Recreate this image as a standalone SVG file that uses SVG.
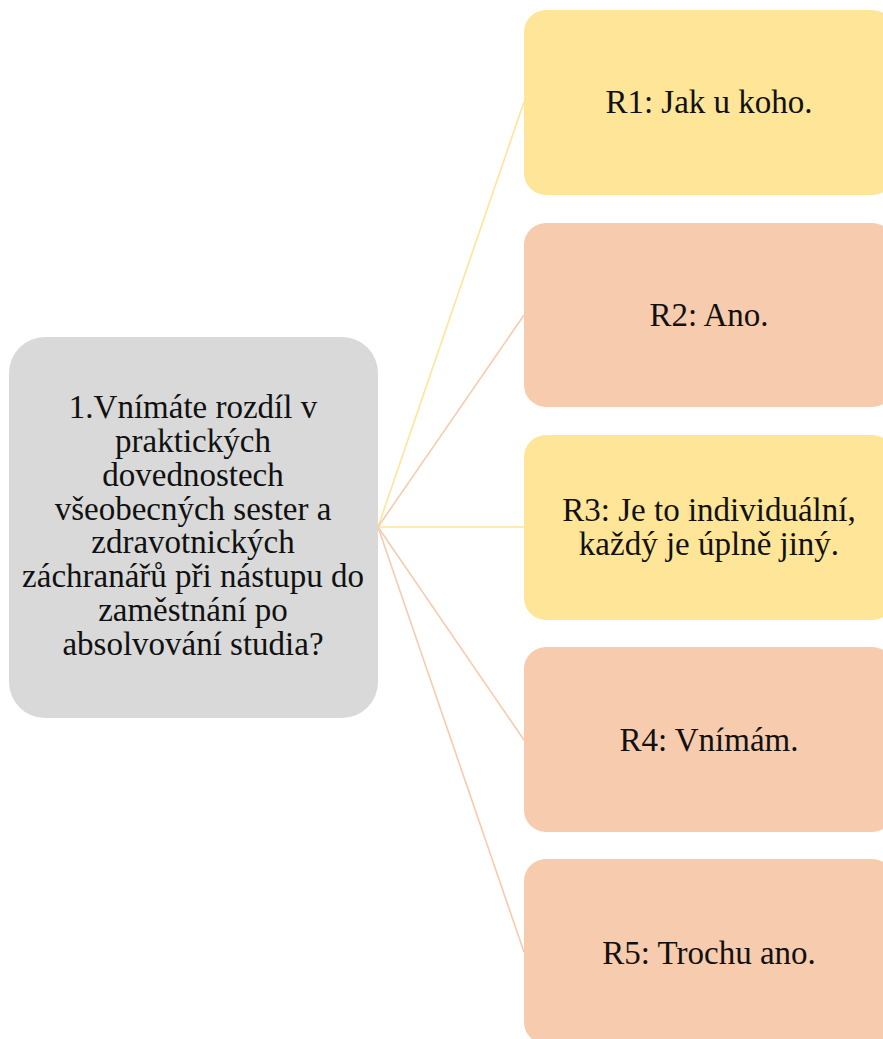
<svg xmlns="http://www.w3.org/2000/svg" width="883" height="1039" viewBox="0 0 883 1039">
<style>
.t{font-family:"Liberation Serif","Times New Roman",serif;font-size:33px;fill:#111;text-anchor:middle}
.y{fill:#FFE597}
.o{fill:#F7CBAD}
.ly{stroke:#FFE597;stroke-width:1.6;fill:none}
.lo{stroke:#F7CBAD;stroke-width:1.6;fill:none}
</style>
<rect width="883" height="1039" fill="#fff"/>
<g id="connectors">
<line class="ly" x1="378" y1="527" x2="524" y2="102"/>
<line class="lo" x1="378" y1="527" x2="524" y2="315"/>
<line class="ly" x1="378" y1="527" x2="524" y2="527"/>
<line class="lo" x1="378" y1="527" x2="524" y2="740"/>
<line class="lo" x1="378" y1="527" x2="524" y2="952"/>
</g>
<g id="q">
<rect x="9" y="337" width="369" height="381" rx="36" fill="#D9D9D9"/>
<text class="t" x="193" y="418">1.Vnímáte rozdíl v</text>
<text class="t" x="193" y="452">praktických</text>
<text class="t" x="193" y="486">dovednostech</text>
<text class="t" x="193" y="520">všeobecných sester a</text>
<text class="t" x="193" y="553">zdravotnických</text>
<text class="t" x="193" y="587">záchranářů při nástupu do</text>
<text class="t" x="193" y="621">zaměstnání po</text>
<text class="t" x="193" y="655">absolvování studia?</text>
</g>
<g id="r1">
<rect class="y" x="524" y="10" width="370" height="185" rx="22"/>
<text class="t" x="709" y="113">R1: Jak u koho.</text>
</g>
<g id="r2">
<rect class="o" x="524" y="223" width="370" height="184" rx="22"/>
<text class="t" x="709" y="326">R2: Ano.</text>
</g>
<g id="r3">
<rect class="y" x="524" y="435" width="370" height="185" rx="22"/>
<text class="t" x="709" y="521">R3: Je to individuální,</text>
<text class="t" x="709" y="555">každý je úplně jiný.</text>
</g>
<g id="r4">
<rect class="o" x="524" y="647" width="370" height="185" rx="22"/>
<text class="t" x="709" y="751">R4: Vnímám.</text>
</g>
<g id="r5">
<rect class="o" x="524" y="859" width="370" height="185" rx="22"/>
<text class="t" x="709" y="964">R5: Trochu ano.</text>
</g>
</svg>
